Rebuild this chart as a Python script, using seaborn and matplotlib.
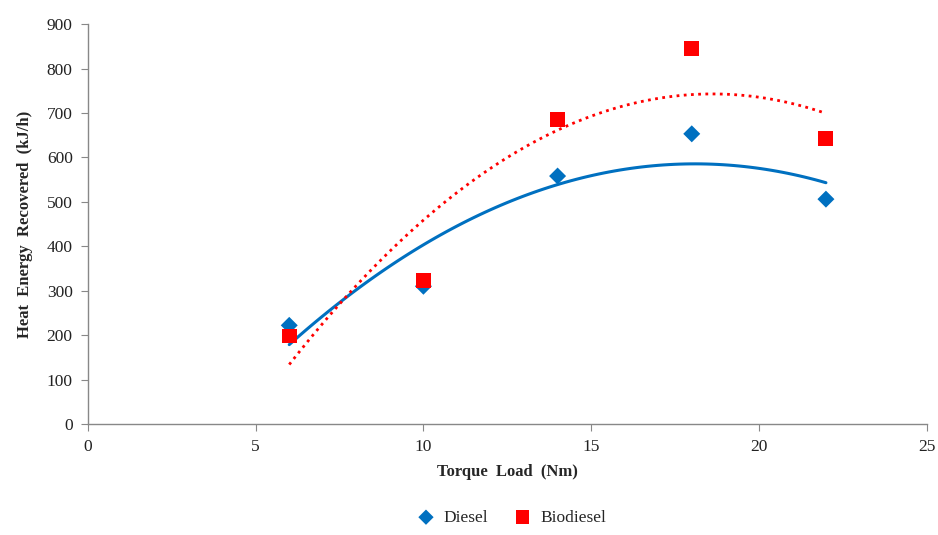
import pandas as pd
import matplotlib.pyplot as plt
import seaborn as sns

torque = [6, 10, 14, 18, 22]
diesel = [222, 310, 558, 653, 506]
biodiesel = [198, 322, 686, 845, 643]

df = pd.DataFrame({
    'Torque': torque * 2,
    'Heat': diesel + biodiesel,
    'Fuel': ['Diesel'] * len(torque) + ['Biodiesel'] * len(torque),
})

sns.set_style('white')
plt.rcParams['font.family'] = ['Liberation Serif', 'DejaVu Serif']

blue = '#0070C0'
red = '#FF0000'

fig = plt.figure(figsize=(9.38, 5.35), dpi=100)
ax = fig.add_axes([0.0938, 0.2075, 0.894, 0.7475])

# quadratic trend lines
sns.regplot(data=df[df['Fuel'] == 'Diesel'], x='Torque', y='Heat', order=2, ci=None,
            scatter=False, truncate=True, ax=ax, line_kws={'color': blue, 'lw': 2.2})
sns.regplot(data=df[df['Fuel'] == 'Biodiesel'], x='Torque', y='Heat', order=2, ci=None,
            scatter=False, truncate=True, ax=ax,
            line_kws={'color': red, 'lw': 2, 'linestyle': (0, (1, 1.6))})

sns.scatterplot(data=df[df['Fuel'] == 'Diesel'], x='Torque', y='Heat', color=blue,
                marker='D', s=75, edgecolor='none', ax=ax, zorder=3, label='Diesel')
sns.scatterplot(data=df[df['Fuel'] == 'Biodiesel'], x='Torque', y='Heat', color=red,
                marker='s', s=115, edgecolor='none', ax=ax, zorder=3, label='Biodiesel')

ax.set_xlim(0, 25)
ax.set_ylim(0, 900)
ax.set_xticks(range(0, 26, 5))
ax.set_yticks(range(0, 901, 100))
ax.tick_params(axis='both', labelsize=12.5, direction='out', length=5, color='#888888',
               left=True, bottom=True, labelcolor='#222222', pad=6)
ax.set_xlabel('Torque  Load  (Nm)', fontsize=12, fontweight='bold', labelpad=6)
ax.set_ylabel('Heat  Energy  Recovered  (kJ/h)', fontsize=12, fontweight='bold', labelpad=10)
sns.despine(ax=ax)
for side in ['left', 'bottom']:
    ax.spines[side].set_color('#888888')
    ax.spines[side].set_linewidth(1)

ax.legend(loc='upper center', bbox_to_anchor=(0.5, -0.175), ncol=2,
          frameon=False, fontsize=12.5, handletextpad=0.0, columnspacing=1.0,
          markerscale=0.9)

fig.savefig('out.png', dpi=100)
